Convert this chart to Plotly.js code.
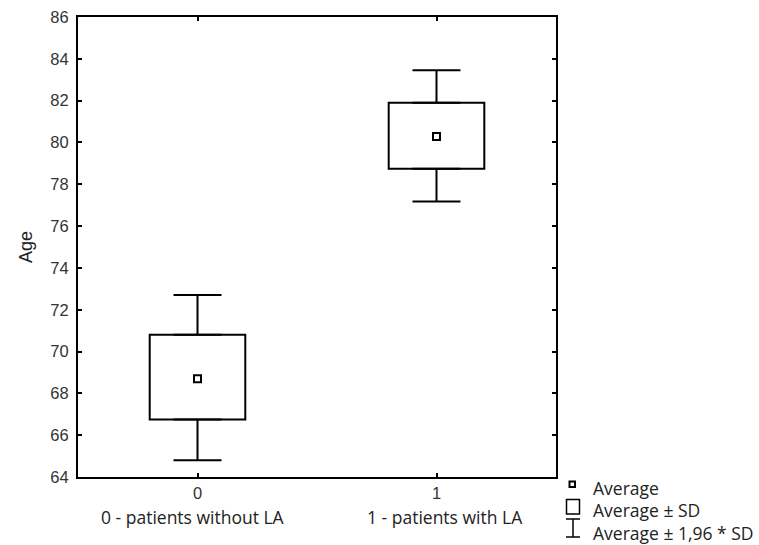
<!DOCTYPE html>
<html>
<head>
<meta charset="utf-8">
<script src="https://cdn.plot.ly/plotly-3.0.1.min.js"></script>
<style>html,body{margin:0;padding:0;background:#fff;}#chart{width:759px;height:545px;}</style>
</head>
<body>
<div id="chart"></div>
<script>
const categories = [0, 1];
const tickLabels = ['0', '1'];
const groupLabels = ['0 - patients without LA', '1 - patients with LA'];
const average = [68.7, 80.28];
const sdLow = [66.75, 78.74];
const sdHigh = [70.8, 81.9];
const ciLow = [64.8, 77.18];
const ciHigh = [72.7, 83.45];
const legendLabels = ['Average', 'Average \u00b1 SD', 'Average \u00b1 1,96 * SD'];

const zeros = categories.map(() => 0);
const boxTrace = {
  type: 'bar',
  x: categories,
  base: sdLow,
  y: sdHigh.map((v, i) => v - sdLow[i]),
  width: 0.4,
  marker: {color: '#ffffff', line: {color: '#000000', width: 2}},
  hoverinfo: 'skip',
  showlegend: false
};
const upperWhisker = {
  type: 'scatter', mode: 'markers', x: categories, y: sdHigh,
  marker: {opacity: 0, size: 1},
  error_y: {type: 'data', symmetric: false, array: ciHigh.map((v, i) => v - sdHigh[i]), arrayminus: zeros,
            width: 24, thickness: 2, color: '#000000'},
  hoverinfo: 'skip', showlegend: false
};
const lowerWhisker = {
  type: 'scatter', mode: 'markers', x: categories, y: sdLow,
  marker: {opacity: 0, size: 1},
  error_y: {type: 'data', symmetric: false, array: zeros, arrayminus: sdLow.map((v, i) => v - ciLow[i]),
            width: 24, thickness: 2, color: '#000000'},
  hoverinfo: 'skip', showlegend: false
};
const meanTrace = {
  type: 'scatter',
  mode: 'markers',
  x: categories,
  y: average,
  marker: {symbol: 'square-open', size: 7, color: '#000000', line: {width: 2, color: '#000000'}},
  showlegend: false,
  hoverinfo: 'skip'
};

const L = 78, R = 556, T = 17, B = 477;
function px(x) { return (x - L) / (R - L); }
function py(y) { return (B - y) / (B - T); }

const labelFont = {family: "'Open Sans', 'Noto Sans', sans-serif", size: 17.5, color: '#222'};
const labelShift = [-5, 8];
const annotations = groupLabels.map((t, i) => ({
  x: categories[i], xref: 'x', y: py(516.5), yref: 'paper', yanchor: 'middle', xanchor: 'center',
  xshift: labelShift[i], text: t, showarrow: false, font: labelFont
}));
const legendY = [488, 510, 532.5];
legendLabels.forEach((t, i) => {
  annotations.push({
    x: px(591), xref: 'paper', y: py(legendY[i]), yref: 'paper', text: t, showarrow: false,
    xanchor: 'left', yanchor: 'middle', font: labelFont
  });
});

const shapes = [
  {type: 'rect', xref: 'paper', yref: 'paper', x0: px(569.5), x1: px(575), y0: py(481.5), y1: py(487), line: {color: '#000', width: 2}},
  {type: 'rect', xref: 'paper', yref: 'paper', x0: px(566.5), x1: px(579.5), y0: py(499.5), y1: py(514), line: {color: '#000', width: 1.5}},
  {type: 'line', xref: 'paper', yref: 'paper', x0: px(566), x1: px(580), y0: py(519), y1: py(519), line: {color: '#000', width: 1.5}},
  {type: 'line', xref: 'paper', yref: 'paper', x0: px(566), x1: px(580), y0: py(537), y1: py(537), line: {color: '#000', width: 1.5}},
  {type: 'line', xref: 'paper', yref: 'paper', x0: px(573), x1: px(573), y0: py(519), y1: py(537), line: {color: '#000', width: 1.5}}
];

const tickFont = {family: "'Liberation Sans', Arial, sans-serif", size: 16.5, color: '#333'};
const layout = {
  width: 759, height: 545,
  margin: {l: L, r: 759 - R, t: T, b: 545 - B},
  paper_bgcolor: '#ffffff', plot_bgcolor: '#ffffff',
  showlegend: false,
  xaxis: {
    range: [-0.5, 1.5], tickvals: categories, ticktext: tickLabels,
    showgrid: false, zeroline: false, showline: true, linecolor: '#000', linewidth: 2,
    mirror: 'ticks', ticks: 'inside', ticklen: 4, tickwidth: 2, tickcolor: '#000',
    tickfont: tickFont
  },
  yaxis: {
    range: [64, 86], dtick: 2, tick0: 64,
    showgrid: false, zeroline: false, showline: true, linecolor: '#000', linewidth: 2,
    mirror: 'ticks', ticks: 'inside', ticklen: 4, tickwidth: 2, tickcolor: '#000',
    tickfont: tickFont, ticklabelstandoff: 4,
    title: {text: 'Age', font: {family: "'Liberation Sans', Arial, sans-serif", size: 18, color: '#222'}, standoff: 13}
  },
  annotations: annotations,
  shapes: shapes
};

Plotly.newPlot('chart', [boxTrace, upperWhisker, lowerWhisker, meanTrace], layout, {displayModeBar: false, staticPlot: true});
</script>
</body>
</html>
